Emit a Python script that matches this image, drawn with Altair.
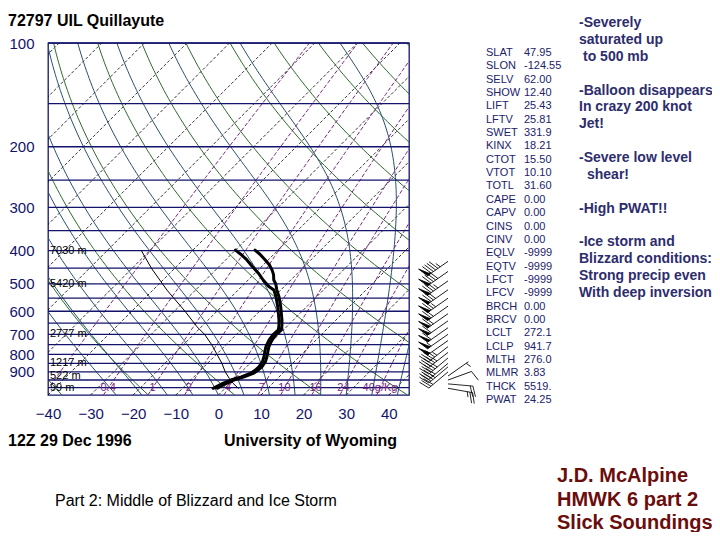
import numpy as np
import pandas as pd
import altair as alt

NAVY = "#13136b"
FONT = "Liberation Sans"

# ---------------- frame of the skew-T ----------------
P_BOTTOM, P_TOP = 1050, 100
T_MIN, T_MAX = -40, 44.74
SKEW = 80.9          # deg C of skew per decade of pressure
W, H = 361, 352

isobar_levels = [100, 150, 200, 250, 300, 350, 400, 450, 500, 550, 600, 650,
                 700, 750, 800, 850, 900, 950, 1000]
pressure_ticks = [100, 200, 300, 400, 500, 600, 700, 800, 900]
temperature_ticks = [-40, -30, -20, -10, 0, 10, 20, 30, 40]

# ---------------- sounding ----------------
temp_p = [1004, 990, 970, 950, 930, 909, 890, 869, 840, 813, 785, 760, 740, 727,
          703, 680, 660, 636, 610, 582, 560, 544, 521, 500, 487, 470, 456, 440,
          426, 410, 399]
temp_c = [-1.8, -1.5, -0.8, 0.1, 1.8, 3.1, 3.5, 3.6, 3.2, 2.4, 1.4, 0.5, 0.0, -0.3,
          -0.6, -0.5, -1.4, -2.7, -4.3, -6.1, -7.7, -8.9, -10.9, -12.6, -14.0,
          -15.3, -16.7, -18.6, -20.7, -23.3, -25.4]

dwpt_p = [1004, 990, 970, 950, 930, 909, 890, 869, 840, 813, 785, 760, 740, 727,
          703, 680, 660, 636, 610, 582, 560, 544, 521, 509, 487, 466, 445, 426,
          410, 399]
dwpt_c = [-2.8, -2.3, -1.6, -0.6, 1.1, 2.4, 2.8, 2.9, 2.5, 1.7, 0.7, -0.2, -0.7,
          -1.0, -1.3, -1.2, -2.1, -3.4, -5.0, -6.8, -8.4, -9.6, -11.6, -13.6,
          -16.5, -19.1, -22.2, -25.0, -27.8, -30.0]

parcel_p = [1004, 970, 942, 900, 850, 797, 750, 700, 666, 600, 521, 450, 400]
parcel_c = [3.1, 0.6, -1.2, -3.8, -6.6, -10.1, -13.4, -17.5, -21.0, -27.5, -36.7,
            -45.5, -52.0]

height_p = [400, 500, 700, 850, 925, 1000]
height_lbl = ["7030 m", "5420 m", "2777 m", "1217 m", "522 m", "99 m"]

mixr_values = [0.1, 0.4, 1, 2, 4, 7, 10, 16, 24, 40]
mixr_label_values = [0.4, 1, 2, 4, 7, 10, 16, 24, 40]
mixr_label_text = ["0.4", "1", "2", "4", "7", "10", "16", "24", "40g/Kg"]

dry_theta_c = list(range(-60, 220, 20))
moist_start_c = list(range(-24, 48, 6))

barb_p = [1004, 975, 950, 925, 900, 870, 850, 820, 790, 760, 730, 700, 670, 640,
          610, 580, 550, 520, 490, 460, 430]
barb_dir = [100, 95, 70, 55, 230, 230, 230, 230, 232, 232, 235, 235, 235, 235,
            235, 235, 235, 235, 235, 235, 235]
barb_kt = [25, 20, 10, 5, 30, 35, 40, 45, 45, 45, 50, 55, 60, 60, 65, 70, 75, 80,
           85, 90, 95]

index_names = ["SLAT", "SLON", "SELV", "SHOW", "LIFT", "LFTV", "SWET", "KINX",
               "CTOT", "VTOT", "TOTL", "CAPE", "CAPV", "CINS", "CINV", "EQLV",
               "EQTV", "LFCT", "LFCV", "BRCH", "BRCV", "LCLT", "LCLP", "MLTH",
               "MLMR", "THCK", "PWAT"]
index_values = ["47.95", "-124.55", "62.00", "12.40", "25.43", "25.81", "331.9",
                "18.21", "15.50", "10.10", "31.60", "0.00", "0.00", "0.00", "0.00",
                "-9999", "-9999", "-9999", "-9999", "0.00", "0.00", "272.1",
                "941.7", "276.0", "3.83", "5519.", "24.25"]

# notes on the right: text, line slot (17 slots), indent in px
notes_text = ["-Severely", "saturated up", "to 500 mb",
              "-Balloon disappears", "In crazy 200 knot", "Jet!",
              "-Severe low level", "shear!",
              "-High PWAT!!",
              "-Ice storm and", "Blizzard conditions:", "Strong precip even",
              "With deep inversion"]
notes_slot = [0, 1, 2, 4, 5, 6, 8, 9, 11, 13, 14, 15, 16]
notes_indent = [0, 0, 4, 0, 0, 0, 0, 8, 0, 0, 0, 0, 0]

author_text = ["J.D. McAlpine", "HMWK 6 part 2", "Slick Soundings"]
author_slot = [0, 1, 2]

# ---------------- physics for the background lines ----------------
def sat_vp(t):
    return 6.112 * np.exp(17.67 * t / (t + 243.5))


def td_from_w(w, p):
    e = w * p / (622.0 + w)
    lg = np.log(e / 6.112)
    return 243.5 * lg / (17.67 - lg)


def moist_path(t0, ps):
    rd, cp, lv, eps = 287.04, 1005.7, 2.501e6, 0.622

    def f(tk, p):
        es = sat_vp(tk - 273.15)
        rs = eps * es / (p - es)
        return (rd * tk + lv * rs) / (p * (cp + lv * lv * rs * eps / (rd * tk * tk)))

    tk = t0 + 273.15
    out = [tk]
    for i in range(1, len(ps)):
        dp = ps[i] - ps[i - 1]
        k1 = f(tk, ps[i - 1])
        k2 = f(tk + 0.5 * dp * k1, ps[i - 1] + 0.5 * dp)
        tk = tk + dp * k2
        out.append(tk)
    return np.array(out) - 273.15


pg = np.geomspace(P_BOTTOM, P_TOP, 90)
rows = []
for t in range(-130, 50, 10):
    rows.append(("iso", f"i{t}", 0, P_BOTTOM, t))
    rows.append(("iso", f"i{t}", 1, P_TOP, t))
for th in dry_theta_c:
    tt = (th + 273.15) * (pg / 1000.0) ** 0.2857 - 273.15
    rows += [("dry", f"d{th}", k, p, t) for k, (p, t) in enumerate(zip(pg, tt))]
for t0 in moist_start_c:
    tt = moist_path(t0, pg)
    rows += [("moist", f"m{t0}", k, p, t) for k, (p, t) in enumerate(zip(pg, tt))]
for w in mixr_values:
    tt = td_from_w(w, pg)
    rows += [("mixr", f"w{w}", k, p, t) for k, (p, t) in enumerate(zip(pg, tt))]
bg = pd.DataFrame(rows, columns=["kind", "id", "k", "p", "T"])

mixr_lbl_df = pd.DataFrame({
    "p": 1003.0,
    "T": td_from_w(np.array(mixr_label_values, dtype=float), 1003.0),
    "label": mixr_label_text,
})

# ---------------- shared encodings ----------------
SKEW_EXPR = f"datum.T + {SKEW} * log({P_BOTTOM} / datum.p) / LN10"
X = alt.X("xs:Q",
          scale=alt.Scale(domain=[T_MIN, T_MAX], nice=False, zero=False),
          axis=alt.Axis(values=temperature_ticks, ticks=False, domain=False, grid=False,
                        labelFontSize=15, labelColor=NAVY, labelFont=FONT,
                        labelPadding=11, labelFlush=False, title=None, format="d"))
Y = alt.Y("p:Q",
          scale=alt.Scale(type="log", domain=[P_TOP, P_BOTTOM], reverse=True, nice=False),
          axis=alt.Axis(values=pressure_ticks, ticks=False, domain=False, grid=False,
                        labelFontSize=15, labelColor=NAVY, labelFont=FONT,
                        labelPadding=14, title=None, format="d"))


def skewed(df):
    return alt.Chart(df).transform_calculate(xs=SKEW_EXPR)


def bg_layer(kind, **mk):
    return skewed(bg[bg.kind == kind]).mark_line(clip=True, **mk).encode(
        x=X, y=Y, detail="id:N", order="k:Q")


iso = bg_layer("iso", color="black", strokeWidth=0.8, strokeDash=[3, 2])
dry = bg_layer("dry", color="#2c6a2c", strokeWidth=1.0)
moist = bg_layer("moist", color="#28506f", strokeWidth=1.0)
mixr = bg_layer("mixr", color="#7a2582", strokeWidth=1.0, strokeDash=[4, 2])

isobars = alt.Chart(pd.DataFrame({"p": isobar_levels})).mark_rule(
    color=NAVY, strokeWidth=1.3).encode(y=Y)

mixr_labels = skewed(mixr_lbl_df).mark_text(
    fontSize=11, color="#7a2582", font=FONT, baseline="middle").encode(
    x=X, y=Y, text="label:N")

heights = alt.Chart(pd.DataFrame({"p": height_p, "label": height_lbl})).mark_text(
    fontSize=11, color="black", font=FONT, align="left", baseline="middle").encode(
    x=alt.value(2), y=Y, text="label:N")


def profile(ps, ts, width):
    df = pd.DataFrame({"p": ps, "T": ts, "k": range(len(ps))})
    return skewed(df).mark_line(color="black", strokeWidth=width, strokeJoin="round",
                                strokeCap="round").encode(x=X, y=Y, order="k:Q")


parcel = profile(parcel_p, parcel_c, 1.0)
dwpt = profile(dwpt_p, dwpt_c, 3.0)
temp = profile(temp_p, temp_c, 3.0)


def barb_path(spd):
    n50 = spd // 50
    rem = spd - 50 * n50
    n10 = rem // 10
    n5 = 1 if rem - 10 * n10 >= 5 else 0
    parts = ["M0 0 L0 -1"]
    y = -1.0
    ln, sl, st = 0.42, 0.14, 0.13
    for _ in range(n50):
        parts.append(f"M0 {y:.3f} L{ln} {y - sl:.3f} L0 {y + st:.3f} Z")
        y += st + 0.05
    for _ in range(n10):
        parts.append(f"M0 {y:.3f} L{ln} {y - sl:.3f}")
        y += 0.11
    if n5:
        if n50 == 0 and n10 == 0:
            y += 0.11
        parts.append(f"M0 {y:.3f} L{ln / 2} {y - sl / 2:.3f}")
    return " ".join(parts)


barb_df = pd.DataFrame({"p": barb_p, "dir": barb_dir, "kt": barb_kt})
barb_df["cat"] = barb_df["kt"].astype(str)
cats = sorted(set(barb_df["cat"]), key=int)
barbs = alt.Chart(barb_df).mark_point(
    filled=True, fill="black", stroke="black", strokeWidth=0.8, opacity=1,
    size=2500).encode(
    x=alt.value(400), y=Y,
    shape=alt.Shape("cat:N", scale=alt.Scale(domain=cats, range=[barb_path(int(c)) for c in cats]),
                    legend=None),
    angle=alt.Angle("dir:Q", scale=None))

plot = alt.layer(iso, dry, moist, mixr, isobars, mixr_labels, heights, parcel, dwpt,
                 temp, barbs)

# ---------------- stability index table ----------------
tbl = pd.DataFrame({"row": range(len(index_names)), "name": index_names,
                    "value": index_values})
TY = alt.Y("row:Q", scale=alt.Scale(domain=[0, len(index_names) - 1], range=[10, 357]),
           axis=None)
tbl_names = alt.Chart(tbl).mark_text(align="left", baseline="middle", fontSize=11,
                                     color="#22226a", font=FONT).encode(
    x=alt.value(438), y=TY, text="name:N")
tbl_vals = alt.Chart(tbl).mark_text(align="left", baseline="middle", fontSize=11,
                                    color="#22226a", font=FONT).encode(
    x=alt.value(476), y=TY, text="value:N")

# ---------------- notes on the right ----------------
notes_df = pd.DataFrame({"text": notes_text, "slot": notes_slot, "indent": notes_indent})
notes = alt.Chart(notes_df).mark_text(
    align="left", baseline="middle", fontSize=14, fontWeight="bold",
    color="#2d2d6d", font=FONT).encode(
    x=alt.X("indent:Q", scale=alt.Scale(domain=[0, 100], range=[531, 631]), axis=None),
    y=alt.Y("slot:Q", scale=alt.Scale(domain=[0, 16], range=[-20, 250]), axis=None),
    text="text:N")

author_df = pd.DataFrame({"text": author_text, "slot": author_slot})
author = alt.Chart(author_df).mark_text(
    align="left", baseline="middle", fontSize=20, fontWeight="bold",
    color="#6b0d0d", font=FONT).encode(
    x=alt.value(509),
    y=alt.Y("slot:Q", scale=alt.Scale(domain=[0, 2], range=[433, 480]), axis=None),
    text="text:N")

one = pd.DataFrame({"a": [0]})


def label(txt, x, y, size, color="black", weight="normal", align="left"):
    return alt.Chart(one).mark_text(
        align=align, baseline="middle", fontSize=size, color=color,
        fontWeight=weight, font=FONT).encode(
        x=alt.value(x), y=alt.value(y), text=alt.value(txt))


title = label("72797 UIL Quillayute", -40, -22, 16, weight="bold")
date = label("12Z 29 Dec 1996", -40, 398, 16, weight="bold")
uni = label("University of Wyoming", 349, 398, 16, weight="bold", align="right")
part = label("Part 2: Middle of Blizzard and Ice Storm", 7, 458, 16)

chart = alt.layer(plot, tbl_names, tbl_vals, notes, author, title, date, uni, part
                  ).resolve_scale(y="independent", x="independent").properties(
    width=W, height=H,
    padding={"left": 40, "top": 35, "right": 303, "bottom": 137},
    autosize=alt.AutoSizeParams(type="none"),
    background="white",
).configure_view(stroke=NAVY, strokeWidth=1.3)

chart.save("out.html", embed_options={"renderer": "svg", "actions": False})
